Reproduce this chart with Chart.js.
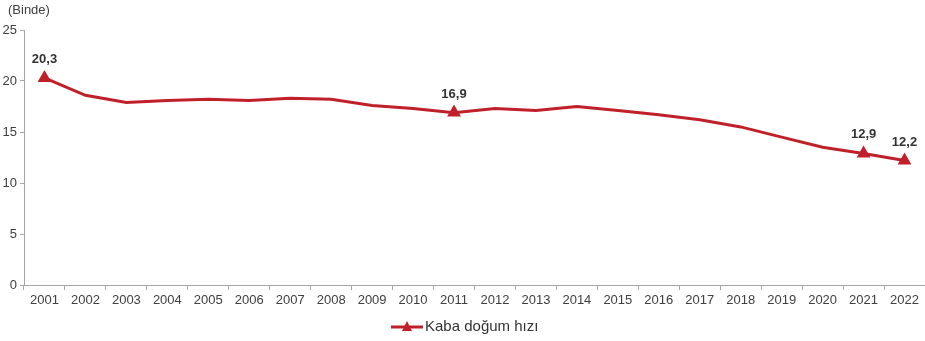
<!DOCTYPE html>
<html>
<head>
<meta charset="utf-8">
<script src="https://cdn.jsdelivr.net/npm/chart.js@4"></script>
<style>
  html, body { margin: 0; padding: 0; background: #fff; }
  #wrap { width: 925px; height: 341px; }
</style>
</head>
<body>
<div id="wrap"><canvas id="myChart" width="925" height="341"></canvas></div>
<script>
'use strict';

// data
let years = ['2001', '2002', '2003', '2004', '2005', '2006', '2007', '2008', '2009', '2010', '2011',
  '2012', '2013', '2014', '2015', '2016', '2017', '2018', '2019', '2020', '2021', '2022'];
let birthRate = [20.3, 18.6, 17.9, 18.1, 18.2, 18.1, 18.3, 18.2, 17.6, 17.3, 16.9,
  17.3, 17.1, 17.5, 17.1, 16.7, 16.2, 15.5, 14.5, 13.5, 12.9, 12.2];
let labelledYears = ['2001', '2011', '2021', '2022'];
let yTicks = [0, 5, 10, 15, 20, 25];
let seriesName = 'Kaba doğum hızı';
let unitText = '(Binde)';

let red = '#c0202a';
let font = '"Liberation Sans", Arial, sans-serif';

// labels above the marked points + unit text + legend
let extras = {
  id: 'extras',
  afterDatasetsDraw(chart) {
    let ctx = chart.ctx;
    let meta = chart.getDatasetMeta(0);
    ctx.save();
    ctx.fillStyle = '#333';
    ctx.font = 'bold 13px ' + font;
    ctx.textAlign = 'center';
    ctx.textBaseline = 'bottom';
    years.forEach((y, i) => {
      if (labelledYears.indexOf(y) < 0) return;
      let p = meta.data[i];
      ctx.fillText(birthRate[i].toFixed(1).replace('.', ','), p.x, p.y - 12);
    });

    ctx.font = '13px ' + font;
    ctx.fillStyle = '#404040';
    ctx.textAlign = 'left';
    ctx.textBaseline = 'middle';
    ctx.fillText(unitText, 8, 10);

    // legend
    let lx = 391, ly = 327;
    ctx.strokeStyle = red;
    ctx.lineWidth = 3;
    ctx.beginPath();
    ctx.moveTo(lx, ly);
    ctx.lineTo(lx + 32, ly);
    ctx.stroke();
    ctx.fillStyle = red;
    ctx.beginPath();
    ctx.moveTo(lx + 16, ly - 6);
    ctx.lineTo(lx + 21, ly + 4);
    ctx.lineTo(lx + 11, ly + 4);
    ctx.closePath();
    ctx.fill();
    ctx.fillStyle = '#333';
    ctx.font = '15px ' + font;
    ctx.fillText(seriesName, lx + 34, ly);
    ctx.restore();
  }
};

let ctx = document.getElementById('myChart').getContext('2d');
let myChart = new Chart(ctx, { //eslint-disable-line
  type: 'line',
  data: {
    labels: years,
    datasets: [{
      label: seriesName,
      data: birthRate,
      borderColor: red,
      backgroundColor: red,
      borderWidth: 3,
      tension: 0,
      clip: false,
      pointStyle: 'triangle',
      pointRadius: years.map(y => labelledYears.indexOf(y) >= 0 ? 5 : 0),
      pointHoverRadius: 5
    }]
  },
  options: {
    responsive: false,
    animation: false,
    layout: { autoPadding: false, padding: { top: 30, right: 0, bottom: 26, left: 0 } },
    plugins: {
      legend: { display: false },
      tooltip: { enabled: false }
    },
    scales: {
      x: {
        offset: true,
        grid: { offset: true, drawOnChartArea: false, color: '#a6a6a6', tickLength: 5 },
        border: { color: '#a6a6a6', width: 1 },
        ticks: { color: '#404040', font: { family: font, size: 13 }, maxRotation: 0, autoSkip: false, padding: 3 },
        afterFit(scale) {
          scale.height = 30;
          scale.paddingLeft = 0;
          scale.paddingRight = 0;
        }
      },
      y: {
        min: 0,
        max: 25,
        afterBuildTicks(scale) { scale.ticks = yTicks.map(v => ({ value: v })); },
        grid: { drawOnChartArea: false, color: '#a6a6a6', tickLength: 4 },
        border: { color: '#a6a6a6', width: 1 },
        ticks: { color: '#404040', font: { family: font, size: 13 }, padding: 3 },
        afterFit(scale) { scale.width = 24; }
      }
    }
  },
  plugins: [extras]
});
</script>
</body>
</html>
